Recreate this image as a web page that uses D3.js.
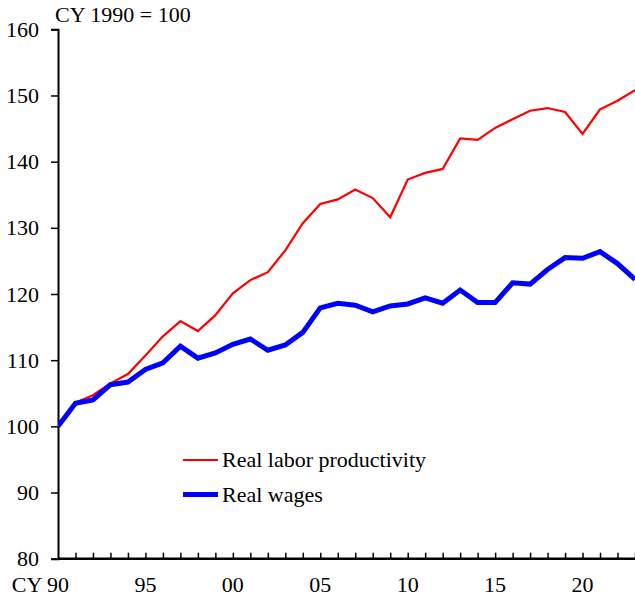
<!DOCTYPE html>
<html>
<head>
<meta charset="utf-8">
<script src="https://cdn.jsdelivr.net/npm/d3@7"></script>
</head>
<body style="margin:0">
<svg id="chart" width="635" height="598" font-family="Liberation Serif" font-size="22"></svg>
<script>
var years = d3.range(1990, 2024);

// CY 1990 = 100
var productivity = [100, 103.6, 104.7, 106.5, 107.9, 110.7, 113.6, 115.9, 114.4, 116.8,
  120.1, 122.1, 123.3, 126.6, 130.7, 133.6, 134.3, 135.8, 134.5, 131.6,
  137.3, 138.3, 138.9, 143.5, 143.3, 145.1, 146.4, 147.7, 148.1, 147.5,
  144.2, 147.9, 149.2, 150.8];

var wages = [100, 103.5, 104.0, 106.3, 106.7, 108.6, 109.6, 112.1, 110.3, 111.1,
  112.4, 113.2, 111.5, 112.3, 114.2, 117.9, 118.6, 118.3, 117.3, 118.2,
  118.5, 119.4, 118.6, 120.6, 118.7, 118.7, 121.7, 121.5, 123.7, 125.5,
  125.4, 126.4, 124.6, 122.2];

var yTicks = [80, 90, 100, 110, 120, 130, 140, 150, 160];
var xLabelYears = [1990, 1995, 2000, 2005, 2010, 2015, 2020];

var series = [
  { name: "Real labor productivity", values: productivity, color: "#ff0000", width: 2.2 },
  { name: "Real wages", values: wages, color: "#0000ff", width: 5 }
];

var FONT = "Liberation Serif";

function plotChart() {
  var height = 598;
  var left = 58, right = 635, top = 29.3, bottom = 558.7;

  var svg = d3.select("#chart");

  var x = d3.scaleLinear().domain([1990, 2023]).range([left, right]);
  var y = d3.scaleLinear().domain([80, 160]).range([bottom, top]);

  // y axis, ticks outward
  var yAxis = svg.append("g")
    .attr("transform", "translate(" + left + ",0)")
    .call(d3.axisLeft(y).tickValues(yTicks).tickSize(7).tickPadding(12));
  yAxis.attr("font-family", FONT).attr("font-size", 22);
  yAxis.select(".domain").attr("stroke", "#000").attr("stroke-width", 2);
  yAxis.selectAll(".tick line").attr("stroke", "#000").attr("stroke-width", 1.5);
  yAxis.selectAll(".tick text").attr("fill", "#000");

  // x axis, ticks inward every year
  var xAxis = svg.append("g")
    .attr("transform", "translate(0," + bottom + ")")
    .call(d3.axisBottom(x).tickValues(years.slice(1)).tickSize(-6).tickFormat(""));
  xAxis.select(".domain").attr("stroke", "#000").attr("stroke-width", 2.5)
    .attr("d", "M" + left + ",0H" + right);
  xAxis.selectAll(".tick line").attr("stroke", "#000").attr("stroke-width", 1.5);

  svg.append("g")
    .selectAll("text")
    .data(xLabelYears)
    .join("text")
    .attr("x", d => x(d))
    .attr("y", 591.5)
    .attr("text-anchor", d => d == 1990 ? "end" : "middle")
    .attr("dx", d => d == 1990 ? 11 : 0)
    .text(d => (d == 1990 ? "CY " : "") + String(d % 100).padStart(2, "0"));

  // unit label
  svg.append("text")
    .attr("x", 55)
    .attr("y", 21.5)
    .text("CY 1990 = 100");

  var line = d3.line()
    .x((d, i) => x(years[i]))
    .y(d => y(d));

  svg.append("defs").append("clipPath").attr("id", "clip")
    .append("rect").attr("x", left).attr("y", 0).attr("width", right - left).attr("height", height);

  // wages drawn last so it sits on top, as in the original
  svg.append("g")
    .attr("clip-path", "url(#clip)")
    .selectAll("path")
    .data(series)
    .join("path")
    .attr("fill", "none")
    .attr("stroke", d => d.color)
    .attr("stroke-width", d => d.width)
    .attr("stroke-linejoin", "miter")
    .attr("d", d => line(d.values));

  // legend
  var legend = svg.append("g")
    .selectAll("g")
    .data(series)
    .join("g")
    .attr("transform", (d, i) => "translate(183," + (460 + i * 34.5) + ")");

  legend.append("line")
    .attr("x1", 0)
    .attr("x2", 35)
    .attr("stroke", d => d.color)
    .attr("stroke-width", d => d.width);

  legend.append("text")
    .attr("x", 39)
    .attr("y", 7)
    .text(d => d.name);
}

plotChart();
</script>
</body>
</html>
